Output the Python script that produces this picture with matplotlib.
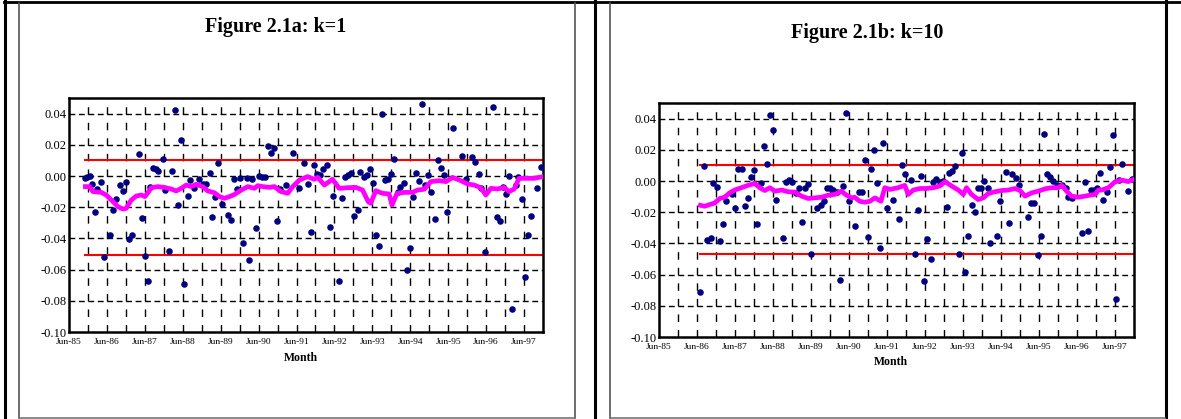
import matplotlib
matplotlib.use('Agg')
import matplotlib.pyplot as plt
from matplotlib.lines import Line2D

plt.rcParams['font.family'] = ['Liberation Serif', 'DejaVu Serif']
plt.rcParams['lines.scale_dashes'] = False

W, H = 1181, 419

# x = months since Jun-85
TICK_MONTHS = [0, 12, 24, 36, 48, 60, 72, 84, 96, 108, 120, 132, 144]
TICK_LABELS = ['Jun-85', 'Jun-86', 'Jun-87', 'Jun-88', 'Jun-89', 'Jun-90', 'Jun-91',
               'Jun-92', 'Jun-93', 'Jun-94', 'Jun-95', 'Jun-96', 'Jun-97']
Y_TICKS = [0.04, 0.02, 0.00, -0.02, -0.04, -0.06, -0.08, -0.10]

# ---- Figure 2.1a: k=1 ----
a_month = [5.2, 5.8, 6.5, 7.3, 8.1, 9.0, 10.1, 11.0, 13.0, 14.0, 15.0, 16.0, 17.0, 18.0,
           19.0, 20.0, 22.0, 23.0, 24.0, 25.0, 25.6, 26.6, 27.5, 28.3, 29.6, 30.5, 31.6,
           32.6, 33.6, 34.6, 35.6, 36.5, 37.5, 38.3, 39.4, 41.0, 42.3, 43.4, 44.5, 45.3,
           46.2, 47.3, 48.3, 50.3, 51.2, 52.3, 53.2, 54.2, 55.2, 56.2, 57.1, 58.0, 59.1,
           60.1, 61.0, 62.0, 63.0, 64.0, 64.9, 65.9, 66.9, 68.7, 70.8, 72.7, 74.3, 75.5,
           76.6, 77.6, 78.5, 79.5, 80.5, 81.5, 82.5, 83.4, 85.3, 86.4, 87.3, 88.3, 89.2,
           90.3, 91.3, 92.2, 93.2, 94.2, 95.2, 96.2, 97.1, 98.1, 99.0, 100.1, 101.0, 102.0,
           102.9, 104.0, 104.8, 105.9, 106.9, 108.0, 108.9, 109.9, 110.8, 111.8, 112.7,
           113.7, 114.7, 115.8, 116.8, 117.7, 118.6, 119.6, 121.6, 124.5, 125.6, 127.5,
           128.4, 129.6, 130.5, 131.6, 134.2, 135.3, 136.3, 137.3, 138.2, 139.3, 140.3,
           141.3, 142.2, 143.2, 144.2, 145.3, 146.2, 148.2, 149.3]
a_value = [-0.0015, -0.0009, 0.0000, -0.0053, -0.0230, -0.0083, -0.0038, -0.0520, -0.0380,
           -0.0220, -0.0147, -0.0060, -0.0094, -0.0038, -0.0406, -0.0376, 0.0139, -0.0270,
           -0.0510, -0.0675, -0.0070, 0.0053, 0.0045, 0.0034, 0.0110, -0.0090, -0.0480,
           0.0034, 0.0420, -0.0188, 0.0229, -0.0690, -0.0130, -0.0026, -0.0077, -0.0020,
           -0.0053, -0.0053, 0.0019, -0.0260, -0.0135, 0.0083, -0.0180, -0.0248, -0.0280,
           -0.0019, -0.0085, -0.0015, -0.0427, -0.0015, -0.0538, -0.0019, -0.0335, 0.0002,
           -0.0004, -0.0009, 0.0190, 0.0150, 0.0180, -0.0286, -0.0083, -0.0060, 0.0145,
           -0.0079, 0.0085, -0.0051, -0.0360, 0.0070, 0.0013, 0.0006, 0.0045, 0.0070,
           -0.0330, -0.0126, -0.0670, -0.0140, -0.0009, 0.0004, 0.0020, -0.0254, -0.0220,
           0.0028, -0.0009, 0.0006, 0.0047, -0.0043, -0.0380, -0.0450, 0.0400, -0.0028,
           -0.0017, 0.0013, 0.0110, -0.0100, -0.0068, -0.0047, -0.0600, -0.0460, -0.0132,
           0.0017, -0.0030, 0.0460, -0.0056, 0.0006, -0.0100, -0.0278, 0.0103, 0.0049,
           0.0009, -0.0230, 0.0305, 0.0128, -0.0020, 0.0124, 0.0092, 0.0010, -0.0080,
           -0.0485, 0.0440, -0.0263, -0.0286, -0.0068, -0.0115, 0.0002, -0.0850, -0.0058,
           -0.0004, -0.0150, -0.0645, -0.0376, -0.0254, -0.0079, 0.0060]
a_avg_month = [5.2, 6.5, 7.6, 10.2, 11.8, 13.4, 15.5, 17.1, 18.1, 19.7, 21.3, 22.9, 24.0,
               25.0, 26.0, 28.1, 30.2, 32.3, 33.9, 35.5, 37.1, 38.7, 40.2, 42.3, 43.9, 46.0,
               47.6, 49.2, 50.8, 52.4, 54.5, 56.6, 58.7, 59.7, 61.3, 63.4, 65.0, 67.1, 69.2,
               70.8, 72.9, 75.5, 77.6, 78.7, 80.8, 83.4, 85.5, 88.2, 90.8, 92.9, 94.7, 95.5,
               97.1, 99.2, 101.3, 102.2, 103.8, 106.1, 108.7, 110.3, 112.4, 114.5, 117.2,
               119.3, 121.4, 124.0, 126.1, 128.2, 130.3, 131.9, 133.5, 135.6, 137.7, 139.3,
               140.9, 142.4, 145.1, 147.2, 150.0]
a_avg_value = [-0.0068, -0.0068, -0.0100, -0.0105, -0.0122, -0.0154, -0.0197, -0.0212,
               -0.0207, -0.0154, -0.0128, -0.0122, -0.0132, -0.0107, -0.0075, -0.0068,
               -0.0073, -0.0083, -0.0096, -0.0079, -0.0058, -0.0068, -0.0053, -0.0068,
               -0.0096, -0.0107, -0.0132, -0.0143, -0.0132, -0.0118, -0.0090, -0.0068,
               -0.0079, -0.0062, -0.0068, -0.0073, -0.0068, -0.0100, -0.0111, -0.0068,
               -0.0026, -0.0004, -0.0021, -0.0009, -0.0058, -0.0021, -0.0079, -0.0075,
               -0.0073, -0.0090, -0.0165, -0.0175, -0.0094, -0.0111, -0.0115, -0.0186,
               -0.0111, -0.0105, -0.0105, -0.0090, -0.0085, -0.0036, -0.0030, -0.0036,
               -0.0009, -0.0030, -0.0051, -0.0058, -0.0075, -0.0122, -0.0079, -0.0083,
               -0.0073, -0.0100, -0.0083, -0.0015, -0.0015, -0.0015, -0.0004]
a_band = [0.0105, -0.0505]

# ---- Figure 2.1b: k=10 ----
b_month = [13.1, 14.2, 15.3, 16.3, 17.2, 18.2, 19.2, 20.2, 21.2, 23.2, 24.1, 25.1, 26.2,
           27.2, 28.2, 29.2, 30.1, 31.1, 32.1, 33.1, 34.1, 35.1, 36.1, 37.1, 39.1, 40.0,
           41.1, 42.1, 43.2, 44.1, 45.0, 46.0, 47.1, 48.0, 50.0, 51.0, 52.0, 53.0, 54.0,
           55.0, 56.1, 57.0, 58.0, 59.0, 60.0, 62.0, 63.0, 64.0, 64.9, 65.9, 66.9, 67.9,
           68.8, 69.8, 70.8, 71.9, 73.9, 75.9, 76.7, 77.6, 79.7, 80.8, 81.9, 82.7, 83.8,
           84.7, 85.8, 86.6, 87.6, 88.7, 89.8, 90.8, 91.6, 92.6, 93.6, 94.7, 95.8, 96.7,
           97.7, 98.7, 99.8, 100.8, 101.7, 102.7, 103.8, 104.5, 106.6, 107.7, 109.6, 110.6,
           111.6, 112.7, 113.6, 116.4, 117.4, 118.5, 119.6, 120.5, 121.6, 122.4, 123.5,
           124.5, 125.6, 127.4, 128.5, 129.3, 130.3, 133.5, 134.5, 135.4, 136.3, 137.4,
           138.3, 139.4, 140.3, 141.4, 142.4, 143.4, 144.3, 145.3, 146.3, 148.2, 149.3]
b_value = [-0.0709, 0.0097, -0.0378, -0.0368, -0.0015, -0.0037, -0.0383, -0.0275, -0.0125,
           -0.0086, -0.0173, 0.0076, 0.0076, -0.0158, -0.0108, 0.0026, 0.0069, -0.0275,
           -0.0011, 0.0223, 0.0112, 0.0426, 0.0329, -0.0123, -0.0363, -0.0004, 0.0004,
           -0.0004, -0.0074, -0.0048, -0.0260, -0.0043, -0.0017, -0.0471, -0.0173, -0.0156,
           -0.0130, -0.0043, -0.0043, -0.0060, -0.0069, -0.0634, -0.0032, 0.0439, -0.0125,
           -0.0288, -0.0071, -0.0071, 0.0136, -0.0361, 0.0076, 0.0199, -0.0011, -0.0432,
           0.0242, -0.0171, -0.0123, -0.0242, 0.0103, 0.0043, 0.0006, -0.0471, -0.0188,
           0.0030, -0.0638, -0.0374, -0.0497, -0.0004, 0.0011, -0.0004, 0.0000, -0.0169,
           0.0054, 0.0061, 0.0093, -0.0471, 0.0180, -0.0584, -0.0350, -0.0151, -0.0199,
           -0.0043, -0.0048, 0.0000, -0.0043, -0.0396, -0.0350, -0.0130, 0.0058, -0.0270,
           0.0043, 0.0022, -0.0026, -0.0231, -0.0141, -0.0141, -0.0476, -0.0352, 0.0303,
           0.0043, 0.0026, 0.0000, -0.0026, -0.0026, -0.0048, -0.0104, -0.0108, -0.0331,
           -0.0006, -0.0320, -0.0058, -0.0060, -0.0043, 0.0054, -0.0123, -0.0069, 0.0091,
           0.0296, -0.0757, 0.0004, 0.0108, -0.0065, 0.0011]
b_avg_month = [13.1, 14.4, 16.0, 17.6, 19.2, 20.7, 22.3, 23.9, 26.0, 28.1, 30.2, 31.8, 33.4,
               35.0, 36.6, 38.7, 40.8, 42.9, 45.0, 47.1, 49.2, 51.3, 53.4, 55.5, 57.6, 59.2,
               60.8, 61.8, 63.4, 65.0, 66.6, 68.2, 70.1, 71.3, 72.9, 75.5, 77.6, 78.7, 80.3,
               82.4, 84.5, 86.6, 88.7, 90.3, 92.4, 94.5, 96.1, 97.1, 98.7, 100.8, 102.4,
               104.0, 106.1, 108.2, 110.3, 112.4, 114.0, 115.6, 117.7, 119.8, 121.9, 124.0,
               126.1, 127.2, 128.7, 130.3, 132.4, 134.5, 136.1, 137.7, 138.8, 139.8, 141.9,
               144.0, 146.1, 148.2, 150.0]
b_avg_value = [-0.0156, -0.0162, -0.0151, -0.0141, -0.0112, -0.0104, -0.0076, -0.0058,
               -0.0043, -0.0028, -0.0015, -0.0043, -0.0061, -0.0043, -0.0065, -0.0058,
               -0.0069, -0.0071, -0.0097, -0.0112, -0.0108, -0.0104, -0.0091, -0.0086,
               -0.0065, -0.0091, -0.0108, -0.0104, -0.0130, -0.0136, -0.0130, -0.0108,
               -0.0130, -0.0043, -0.0054, -0.0043, -0.0028, -0.0086, -0.0058, -0.0048,
               -0.0048, -0.0043, -0.0032, -0.0004, -0.0032, -0.0058, -0.0086, -0.0043,
               -0.0086, -0.0119, -0.0108, -0.0080, -0.0069, -0.0061, -0.0058, -0.0048,
               -0.0061, -0.0097, -0.0076, -0.0065, -0.0050, -0.0043, -0.0043, -0.0028,
               -0.0065, -0.0097, -0.0104, -0.0097, -0.0091, -0.0086, -0.0058, -0.0058,
               -0.0043, -0.0006, 0.0006, -0.0004, 0.0011]
b_band = [0.0102, -0.0465]

C_DOT = '#000080'
C_AVG = '#FF00FF'
C_BAND = '#FF0000'


def px_box(left, top, right, bottom):
    return [left / W, 1 - bottom / H, (right - left) / W, (bottom - top) / H]


def draw_panel(ax, months, values, avg_m, avg_v, band):
    ax.set_xlim(0, 150)
    ax.set_ylim(-0.10, 0.05)
    # dashed grid: horizontal at each 0.02, vertical every six months
    # dashes centred on the crossings so they form little "+" marks
    for yv in Y_TICKS[:-1]:
        ax.axhline(yv, color='black', lw=1.0, dashes=(4.2, 2.6), dash_capstyle='butt',
                   zorder=1)
    for xv in range(6, 150, 6):
        ax.axvline(xv, color='black', lw=1.0, dashes=(5.4, 5.8), zorder=1)
    start = months[0]
    for lvl in band:
        ax.plot([start, 150], [lvl, lvl], color=C_BAND, lw=1.5, zorder=2)
    ax.plot(months, values, 'o', color=C_DOT, ms=3.7, mec=C_DOT, zorder=3)
    ax.plot(avg_m, avg_v, color=C_AVG, lw=3.4, zorder=4, solid_joinstyle='round')
    ax.set_xticks(TICK_MONTHS)
    ax.set_xticklabels(TICK_LABELS, fontsize=6.8)
    ax.set_yticks(Y_TICKS)
    ax.set_yticklabels([f'{v:.2f}' for v in Y_TICKS], fontsize=9)
    ax.tick_params(axis='both', length=0)
    ax.tick_params(axis='x', pad=4)
    ax.tick_params(axis='y', pad=2)
    for sp in ax.spines.values():
        sp.set_linewidth(1.8)
        sp.set_color('black')


fig = plt.figure(figsize=(W / 100, H / 100), dpi=100)

ax1 = fig.add_axes(px_box(69, 98, 543, 332))
draw_panel(ax1, a_month, a_value, a_avg_month, a_avg_value, a_band)
ax2 = fig.add_axes(px_box(659, 103, 1134, 337))
draw_panel(ax2, b_month, b_value, b_avg_month, b_avg_value, b_band)

fig.text(276 / W, 1 - 27 / H, 'Figure 2.1a: k=1', fontsize=14.5, fontweight='bold',
         ha='center', va='center')
fig.text(867 / W, 1 - 33 / H, 'Figure 2.1b: k=10', fontsize=14.5, fontweight='bold',
         ha='center', va='center')
fig.text(301 / W, 1 - 358 / H, 'Month', fontsize=8.5, fontweight='bold',
         ha='center', va='center')
fig.text(891 / W, 1 - 362 / H, 'Month', fontsize=8.5, fontweight='bold',
         ha='center', va='center')


# table borders of the document page
def fline(x0, y0, x1, y1, color, lw):
    fig.add_artist(Line2D([x0 / W, x1 / W], [1 - y0 / H, 1 - y1 / H],
                          color=color, lw=lw, transform=fig.transFigure))


for x in (5, 595, 1166):
    fline(x, 0, x, H, 'black', 2.2)
fline(4, 2, W, 2, 'black', 2.0)
for x in (19, 575, 610):
    fline(x, 3, x, H, '#555555', 1.2)
fline(19, 418, 575, 418, '#777777', 1.2)
fline(610, 418, 1165, 418, '#777777', 1.2)

fig.savefig('out.png', dpi=100)
